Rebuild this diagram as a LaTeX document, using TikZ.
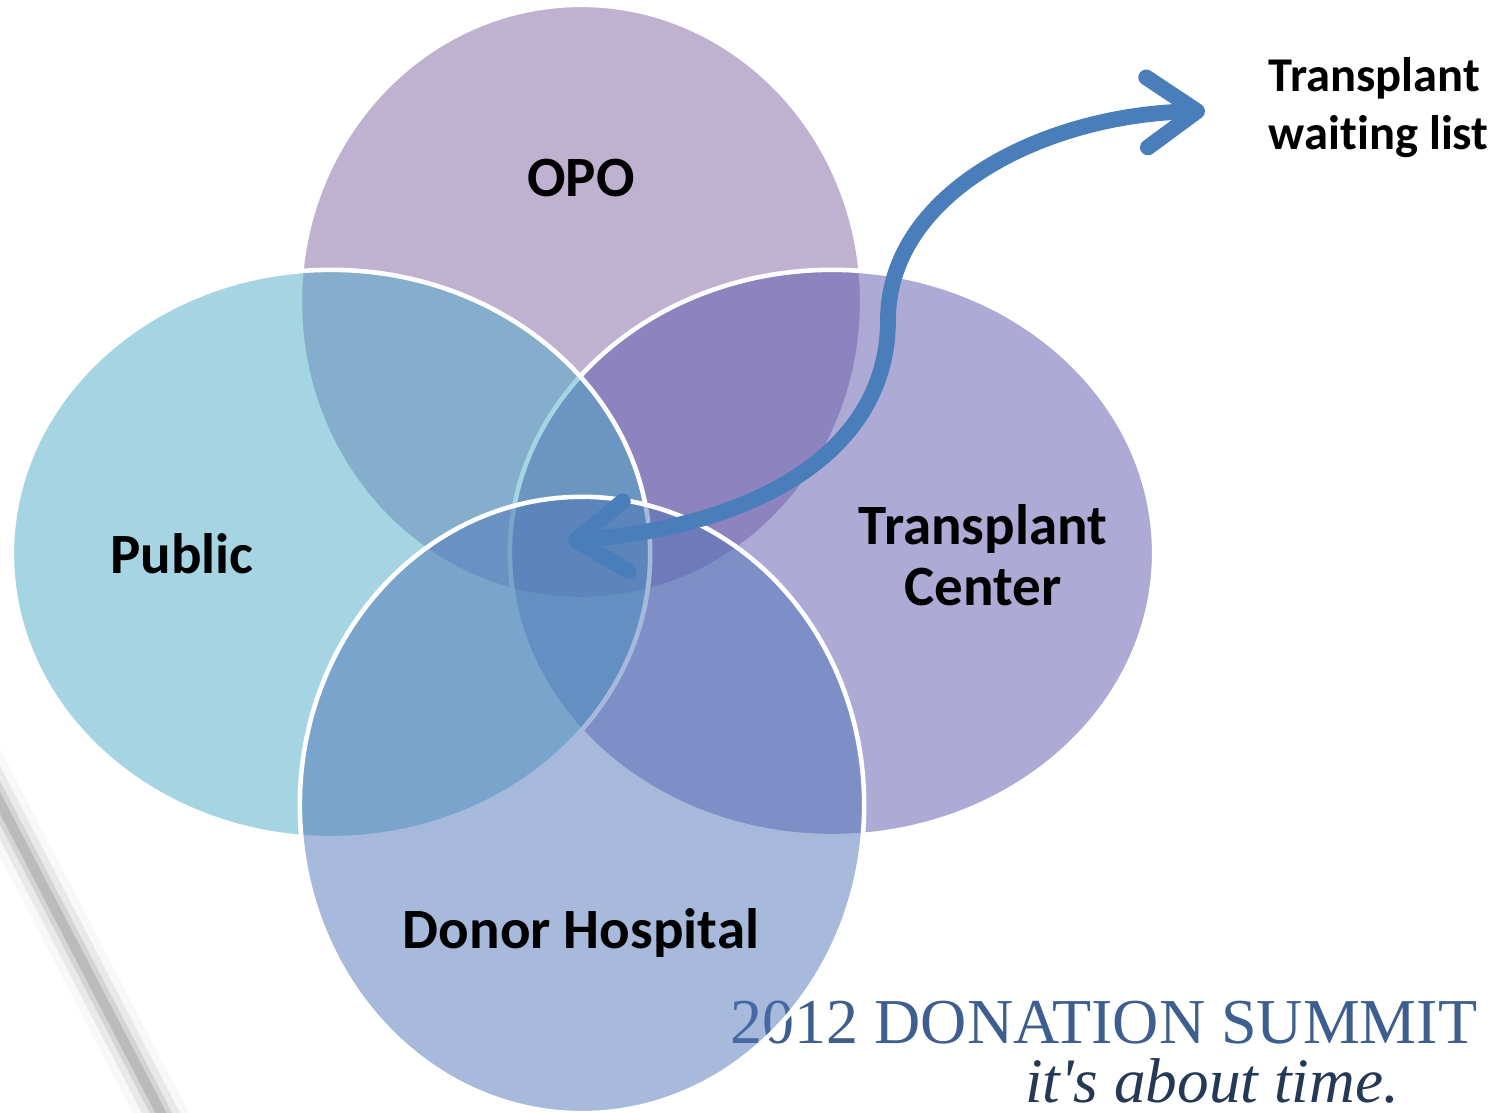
\documentclass[tikz,border=0pt]{standalone}
\usepackage{fontspec}
\setmainfont{Carlito}[Ligatures=NoCommon]
\newfontfamily\logofont{Liberation Serif}
\usepackage{xcolor}
\usetikzlibrary{shapes.geometric,arrows.meta}
\definecolor{opoC}{HTML}{8064A2}
\definecolor{pubC}{HTML}{4BACC6}
\definecolor{tcC}{HTML}{5D55AD}
\definecolor{dhC}{HTML}{4F75B7}
\definecolor{flowC}{HTML}{4A7EBB}
\definecolor{logoC}{HTML}{3E5E90}

\begin{document}
\begin{tikzpicture}[x=0.01cm, y=-0.01cm,
  venn/.style={ellipse, draw=white, line width=1.3pt, fill opacity=0.5, inner sep=0},
  lbl/.style={font=\fontsize{16.2}{17.5}\selectfont\bfseries, align=center, inner sep=0},
  flow/.style={draw=flowC, line width=4.5pt, line cap=round,
    {Straight Barb[length=5mm,width=7mm,round]}-{Straight Barb[length=5mm,width=7mm,round]}}]
\useasboundingbox (0,0) rectangle (1501,1113);
%background
\foreach \w/\o in {50/0.06, 34/0.12, 20/0.2, 10/0.3}
  \draw[line width=\w*0.01cm, gray, opacity=\o] (-30,745) -- (175,1140);
\node[font=\logofont\fontsize{18.2}{20}\selectfont, text=logoC, inner sep=0] (logo) at (1104,1023) {2012 DONATION SUMMIT};
\node[font=\logofont\itshape\fontsize{18}{20}\selectfont, text=logoC!60!black, anchor=base, inner sep=0] (motto) at (1212,1102) {it's about time.};
%circles
\node[venn, fill=opoC, minimum width=5.62cm, minimum height=5.94cm] (opo) at (581,302) {};
\node[venn, fill=tcC, minimum width=6.44cm, minimum height=5.66cm] (tc) at (832,553) {};
\node[venn, fill=pubC, minimum width=6.38cm, minimum height=5.68cm] (pub) at (331,554) {};
\node[venn, fill=dhC, minimum width=5.64cm, minimum height=6.16cm] (dh) at (582,805) {};
\node[lbl] (opoT) at (581,178) {OPO};
\node[lbl] (pubT) at (182,554) {Public};
\node[lbl] (tcT) at (983,555) {Transplant\\Center};
\node[lbl] (dhT) at (581,933) {Donor Hospital};
\node[lbl, font=\fontsize{13.8}{16.5}\selectfont\bfseries, align=left, anchor=west] (wait) at (1268,108) {Transplant\\waiting list};
\coordinate (hub) at (568,541);
\coordinate (bend) at (888,320);
\draw[flow] (hub) .. controls (760,525) and (888,450) .. (bend)
  .. controls (888,195) and (1040,115) .. ([xshift=-0.63cm,yshift=-0.03cm]wait.west);
\end{tikzpicture}
\end{document}
